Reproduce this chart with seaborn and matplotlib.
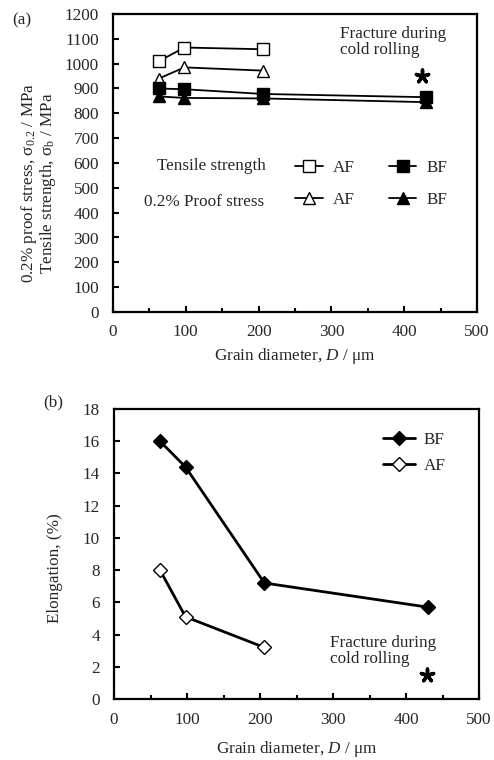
import matplotlib
matplotlib.use("Agg")
import matplotlib.pyplot as plt
import seaborn as sns
from matplotlib.lines import Line2D

# ---- data ----
d_af = [63, 98, 206]
d_bf = [63, 98, 206, 430]
ts_af = [1010, 1065, 1058]
ps_af = [940, 985, 972]
ts_bf = [900, 897, 878, 865]
ps_bf = [868, 862, 860, 845]
el_bf = [16.0, 14.4, 7.2, 5.7]
el_af = [8.0, 5.1, 3.2]
fracture_top_x = [425]
fracture_top_y = [950]
fracture_bot_x = [429]
fracture_bot_y = [1.5]

sns.set_style("ticks")
plt.rcParams['font.family'] = ['Liberation Serif', 'DejaVu Serif']
plt.rcParams['mathtext.fontset'] = 'custom'
plt.rcParams['mathtext.rm'] = 'Liberation Serif'
plt.rcParams['mathtext.it'] = 'Liberation Serif:italic'
FS = 12.3

fig = plt.figure(figsize=(4.94, 7.6), dpi=100)
W, H = 494, 760
def rect(l, t, r, b):
    return [l / W, 1 - b / H, (r - l) / W, (b - t) / H]

ax1 = fig.add_axes(rect(113, 14, 477, 312))
ax2 = fig.add_axes(rect(114, 409, 479, 699))

def style(ax, ymax, ystep):
    ax.set_xlim(0, 500)
    ax.set_ylim(0, ymax)
    ax.set_xticks(range(0, 501, 100))
    ax.set_xticks(range(50, 500, 100), minor=True)
    ax.set_yticks(range(0, ymax + 1, ystep))
    ax.tick_params(axis='both', which='both', direction='in', labelsize=FS,
                   width=1.5, color='black')
    ax.tick_params(axis='both', which='major', length=4)
    ax.tick_params(axis='x', which='minor', length=3)
    ax.tick_params(axis='x', pad=9)
    ax.tick_params(axis='y', pad=10)
    for s in ax.spines.values():
        s.set_linewidth(1.6)
        s.set_color('black')
        s.set_visible(True)

star = dict(marker=(5, 2, 0), s=85, color='black', linewidth=2.5, legend=False)

# ---- top panel ----
mk = dict(color='black', linewidth=1.3, markeredgecolor='black', markeredgewidth=1.0)
sns.lineplot(x=d_af, y=ts_af, ax=ax1, marker='s', markersize=9, markerfacecolor='white', **mk)
sns.lineplot(x=d_af, y=ps_af, ax=ax1, marker='^', markersize=9, markerfacecolor='white', **mk)
sns.lineplot(x=d_bf, y=ts_bf, ax=ax1, marker='s', markersize=9, markerfacecolor='black', **mk)
sns.lineplot(x=d_bf, y=ps_bf, ax=ax1, marker='^', markersize=9, markerfacecolor='black', **mk)
sns.scatterplot(x=fracture_top_x, y=fracture_top_y, ax=ax1, **star)
style(ax1, 1200, 100)
ax1.set_xlabel('Grain diameter, $\\it{D}$ / μm', fontsize=FS, labelpad=4)
ax1.set_ylabel('0.2% proof stress, σ$_{0.2}$ / MPa\nTensile strength, σ$_{\\rm b}$ / MPa',
               fontsize=FS, linespacing=0.92)
ax1.yaxis.set_label_coords(-0.152, 0.433)
ax1.text(312, 1087, 'Fracture during\ncold rolling', fontsize=FS, ha='left', va='center',
         linespacing=1.0)
ax1.text(0.27, 0.49, 'Tensile strength', transform=ax1.transAxes, fontsize=FS,
         ha='center', va='center')
ax1.text(0.25, 0.37, '0.2% Proof stress', transform=ax1.transAxes, fontsize=FS,
         ha='center', va='center')
h = [Line2D([], [], marker='s', markerfacecolor='white', markersize=9, **mk),
     Line2D([], [], marker='^', markerfacecolor='white', markersize=9, **mk),
     Line2D([], [], marker='s', markerfacecolor='black', markersize=9, **mk),
     Line2D([], [], marker='^', markerfacecolor='black', markersize=9, **mk)]
ax1.legend(h, ['AF', 'AF', 'BF', 'BF'], ncol=2, frameon=False, fontsize=FS,
           loc='center', bbox_to_anchor=(0.71, 0.43), handlelength=1.6,
           handletextpad=0.6, columnspacing=2.0, labelspacing=0.95)
fig.text(22 / W, 1 - 20 / H, '(a)', fontsize=FS, ha='center', va='center')

# ---- bottom panel ----
mk2 = dict(color='black', linewidth=2.0, markeredgecolor='black', markeredgewidth=1.0)
sns.lineplot(x=d_bf, y=el_bf, ax=ax2, marker='D', markersize=7, markerfacecolor='black', **mk2)
sns.lineplot(x=d_af, y=el_af, ax=ax2, marker='D', markersize=7, markerfacecolor='white', **mk2)
sns.scatterplot(x=fracture_bot_x, y=fracture_bot_y, ax=ax2, **star)
style(ax2, 18, 2)
ax2.set_xlabel('Grain diameter, $\\it{D}$ / μm', fontsize=FS, labelpad=8)
ax2.set_ylabel('Elongation, (%)', fontsize=FS)
ax2.yaxis.set_label_coords(-0.14, 0.452)
ax2.text(296, 3.0, 'Fracture during\ncold rolling', fontsize=FS, ha='left', va='center',
         linespacing=1.0)
h2 = [Line2D([], [], marker='D', markerfacecolor='black', markersize=7, **mk2),
      Line2D([], [], marker='D', markerfacecolor='white', markersize=7, **mk2)]
ax2.legend(h2, ['BF', 'AF'], frameon=False, fontsize=FS, loc='upper right',
           bbox_to_anchor=(0.95, 0.975), handlelength=1.9, handletextpad=0.5,
           labelspacing=0.6)
fig.text(53 / W, 1 - 402 / H, '(b)', fontsize=FS, ha='center', va='center')

fig.savefig('out.png', dpi=100)
